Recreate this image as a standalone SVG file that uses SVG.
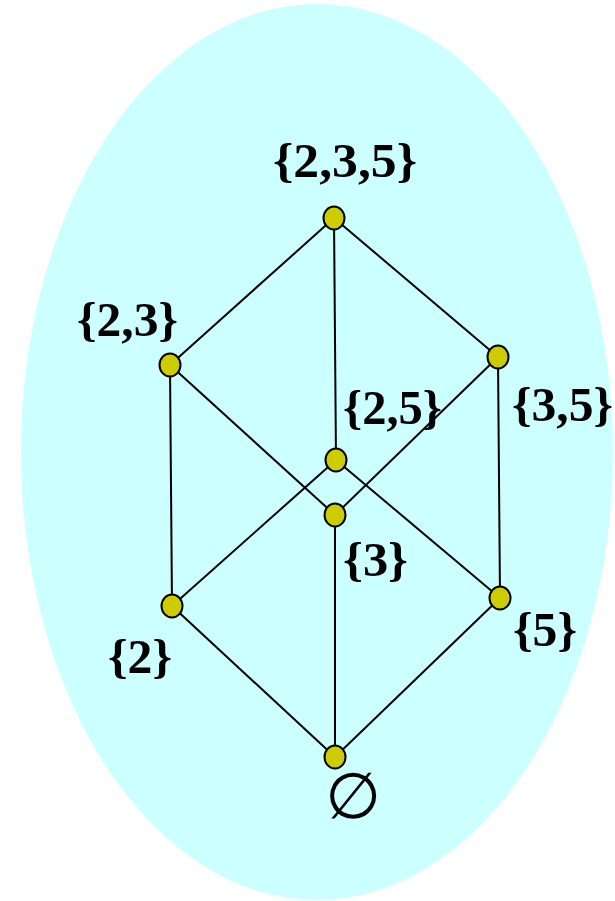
<svg xmlns="http://www.w3.org/2000/svg" width="615" height="901" viewBox="0 0 615 901">
<style>
.node{fill:#CCCC00;stroke:#000;stroke-width:2}
.edge{stroke:#000;stroke-width:2;fill:none}
</style>
<rect width="615" height="901" fill="#fff"/>
<ellipse cx="317" cy="452" rx="296" ry="448" fill="#CCFFFF"/>
<g id="connectors">
<line class="edge" x1="334" y1="218" x2="170" y2="365"/>
<line class="edge" x1="334" y1="218" x2="498" y2="357"/>
<line class="edge" x1="334" y1="218" x2="336" y2="460"/>
<line class="edge" x1="170" y1="365" x2="172" y2="606"/>
<line class="edge" x1="170" y1="365" x2="335" y2="515"/>
<line class="edge" x1="498" y1="357" x2="335" y2="515"/>
<line class="edge" x1="498" y1="357" x2="500" y2="598"/>
<line class="edge" x1="336" y1="460" x2="172" y2="606"/>
<line class="edge" x1="336" y1="460" x2="500" y2="598"/>
<line class="edge" x1="335" y1="515" x2="335" y2="757"/>
<line class="edge" x1="172" y1="606" x2="335" y2="757"/>
<line class="edge" x1="500" y1="598" x2="335" y2="757"/>
</g>
<g font-family="Liberation Serif, serif" font-weight="bold" font-size="48" fill="#000">
<g id="n235"><ellipse class="node" cx="334" cy="218" rx="10.5" ry="11.5"/><text x="273" y="177" textLength="144" lengthAdjust="spacingAndGlyphs">{2,3,5}</text></g>
<g id="n23"><ellipse class="node" cx="170" cy="365" rx="10.5" ry="11.5"/><text x="77" y="336" textLength="101" lengthAdjust="spacingAndGlyphs">{2,3}</text></g>
<g id="n35"><ellipse class="node" cx="498" cy="357" rx="10.5" ry="11.5"/><text x="512" y="421" textLength="101" lengthAdjust="spacingAndGlyphs">{3,5}</text></g>
<g id="n25"><ellipse class="node" cx="336" cy="460" rx="10.5" ry="11.5"/><text x="343" y="424" textLength="99" lengthAdjust="spacingAndGlyphs">{2,5}</text></g>
<g id="n3"><ellipse class="node" cx="335" cy="515" rx="10.5" ry="11.5"/><text x="343" y="576" textLength="65" lengthAdjust="spacingAndGlyphs">{3}</text></g>
<g id="n2"><ellipse class="node" cx="172" cy="606" rx="10.5" ry="11.5"/><text x="108" y="673" textLength="64" lengthAdjust="spacingAndGlyphs">{2}</text></g>
<g id="n5"><ellipse class="node" cx="500" cy="598" rx="10.5" ry="11.5"/><text x="513" y="646" textLength="64" lengthAdjust="spacingAndGlyphs">{5}</text></g>
</g>
<g id="nempty"><ellipse class="node" cx="335" cy="757" rx="10.5" ry="11.5"/><text x="353" y="818" text-anchor="middle" font-family="DejaVu Sans, sans-serif" font-size="64" fill="#000">∅</text></g>
</svg>
